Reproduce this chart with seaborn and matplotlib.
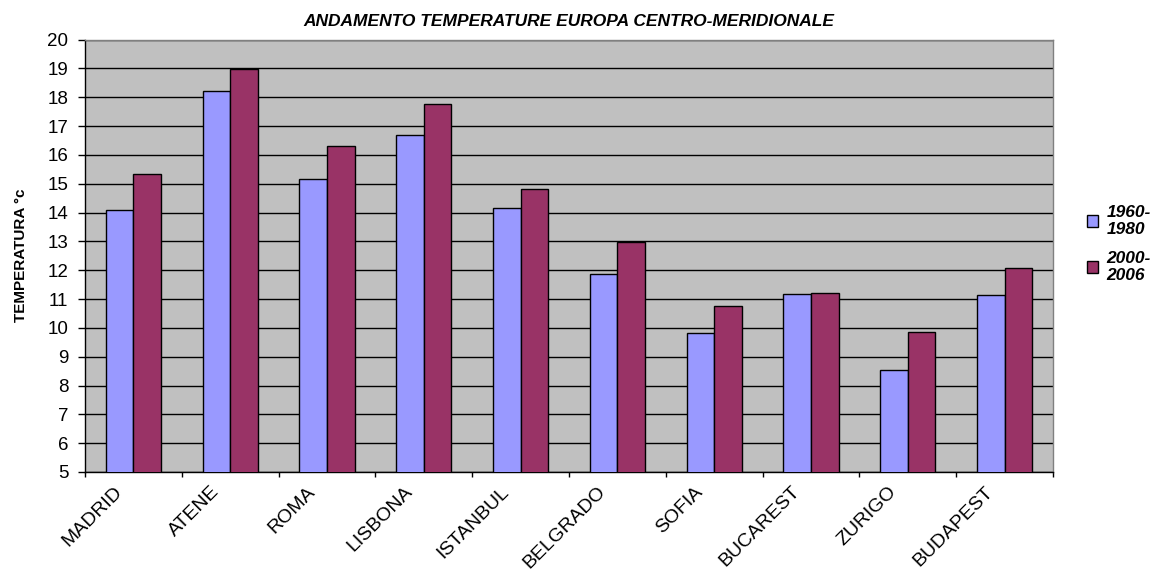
import matplotlib
matplotlib.use("Agg")
import matplotlib.pyplot as plt
import matplotlib.transforms as mtransforms
import seaborn as sns
import pandas as pd
import numpy as np
from matplotlib.ticker import FixedLocator
from matplotlib.patches import Patch

cities = ["MADRID", "ATENE", "ROMA", "LISBONA", "ISTANBUL",
          "BELGRADO", "SOFIA", "BUCAREST", "ZURIGO", "BUDAPEST"]
period_a = "1960-1980"
period_b = "2000-2006"
temps_a = [14.07, 18.22, 15.16, 16.68, 14.16, 11.85, 9.81, 11.16, 8.53, 11.13]
temps_b = [15.35, 18.99, 16.29, 17.76, 14.83, 12.97, 10.76, 11.21, 9.85, 12.07]
legend_labels = ["1960-\n1980", "2000-\n2006"]

df = pd.DataFrame({
    "city": cities * 2,
    "period": [period_a] * len(cities) + [period_b] * len(cities),
    "temp": temps_a + temps_b,
})

sns.set_theme(style="white")
plt.rcParams["font.family"] = ["Liberation Sans", "DejaVu Sans"]
plt.rcParams.update({"text.color": "black", "axes.labelcolor": "black",
                     "xtick.color": "black", "ytick.color": "black"})

fig = plt.figure(figsize=(11.56, 5.74), dpi=100)
ax = fig.add_axes([85 / 1156, 1 - 472 / 574, (1053 - 85) / 1156, (472 - 39.5) / 574])

palette = {period_a: "#9999FF", period_b: "#993366"}
sns.barplot(data=df, x="city", y="temp", hue="period", palette=palette,
            width=0.57, edgecolor="black", linewidth=1.0, saturation=1,
            ax=ax, zorder=3, legend=False)

ax.set_facecolor("#C0C0C0")
ax.set_ylim(5, 20)
ax.set_xlim(-0.5, len(cities) - 0.5)
ax.set_yticks(range(5, 21))
ax.yaxis.grid(True, color="black", linewidth=1.0, zorder=0)
ax.set_axisbelow(True)
for side in ["top", "right"]:
    ax.spines[side].set_color("#808080")
    ax.spines[side].set_linewidth(1.0)
for side in ["left", "bottom"]:
    ax.spines[side].set_color("black")
    ax.spines[side].set_linewidth(1.0)

ax.tick_params(axis="y", which="major", left=True, length=5, width=1,
               color="black", labelcolor="black", labelsize=13.5, pad=7)
ax.tick_params(axis="x", which="major", bottom=False, labelcolor="black",
               labelsize=14, pad=2)
ax.xaxis.set_minor_locator(FixedLocator(np.arange(-0.5, len(cities), 1.0)))
ax.tick_params(axis="x", which="minor", bottom=True, length=3.5, width=1, color="black")

shift = mtransforms.ScaledTranslation(-20 / 100, 0, fig.dpi_scale_trans)
for lab in ax.get_xticklabels():
    lab.set_rotation(45)
    lab.set_ha("right")
    lab.set_va("top")
    lab.set_rotation_mode("anchor")
    lab.set_transform(lab.get_transform() + shift)

ax.set_xlabel("")
ax.set_ylabel("TEMPERATURA °c", fontsize=11, fontweight="bold", labelpad=14,
              color="black")
ax.set_title("ANDAMENTO TEMPERATURE EUROPA CENTRO-MERIDIONALE",
             fontsize=12.5, fontweight="bold", style="italic", pad=10,
             color="black")

handles = [Patch(facecolor=palette[period_a], edgecolor="black", linewidth=1),
           Patch(facecolor=palette[period_b], edgecolor="black", linewidth=1)]
fig.legend(handles, legend_labels, loc="center left",
           bbox_to_anchor=(1071 / 1156, 1 - 244 / 574), frameon=False,
           prop={"size": 12.5, "weight": "bold", "style": "italic"},
           labelcolor="black",
           handlelength=0.65, handleheight=0.65, handletextpad=0.5,
           labelspacing=0.8)

fig.savefig("out.png", dpi=100)
